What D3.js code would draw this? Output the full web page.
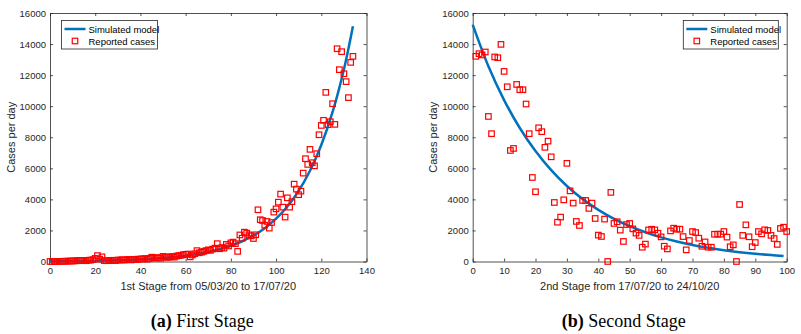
<!DOCTYPE html>
<html><head><meta charset="utf-8">
<script src="https://cdn.jsdelivr.net/npm/d3@7/dist/d3.min.js"></script>
<style>
body{margin:0;background:#fff;}
svg{display:block;font-family:"Liberation Sans",Arial,sans-serif;}
</style></head>
<body><svg id="c" width="801" height="334"></svg>
<script>
// ---------- DATA ----------
const yTicks = [0,2000,4000,6000,8000,10000,12000,14000,16000];
const stage1XTicks = [0,20,40,60,80,100,120,140];
const stage2XTicks = [0,10,20,30,40,50,60,70,80,90,100];

const stage1ReportedCases = [
  0,0,0,0,5,10,15,20,25,30,35,
  40,50,60,70,60,50,80,90,120,
  200,380,150,300,60,50,60,70,80,60,90,
  100,110,90,120,130,100,140,120,150,160,
  170,190,150,200,280,220,230,250,210,330,
  290,260,300,320,280,350,380,400,440,460,
  480,300,420,500,700,560,600,650,700,750,
  720,800,860,1150,820,900,860,1100,1000,1200,1250,1150,650,
  1710,1500,1890,1830,1720,1650,1480,1720,3330,2690,2640,2340,2580,2150,2510,3180,
  3390,3820,4340,3500,2860,4100,3500,3850,4980,4660,4300,4530,5690,6620,6250,7220,
  6360,6160,6940,8160,8760,9090,10890,8810,9000,10160,8830,13700,12350,13510,12090,
  11580,10550,12820,13210
];
const stage1Model = {
  days:  [0,10,20,30,40,50,60,70,80,85,90,95,100,105,110,115,120,125,130,134],
  cases: [19,31,51,83,137,226,373,615,1015,1303,1673,2148,2758,3542,4548,5839,7498,9628,12363,15150]
};

const stage2ReportedCases = [
  13210,13380,13300,13490,9340,8230,13170,13120,13980,12240,
  11250,7150,7280,11400,11060,11060,10140,8230,5410,4490,
  8610,8360,7350,7750,6740,3800,2530,2860,3970,6320,
  4550,3760,2580,2320,3930,3930,3420,3760,2770,1700,
  1610,2730,0,4450,2450,2560,2020,1290,2380,2450,
  2100,1830,1680,920,1120,2035,2077,2035,1820,1585,
  985,810,1970,2145,2080,2080,1605,750,1350,1930,
  1865,1500,980,1260,920,920,1755,1760,1760,1930,
  1570,950,1070,0,3670,1680,2360,1590,950,1220,
  1930,1780,2040,2000,1680,1480,1100,2130,2210,1930
];
const stage2Model = {
  days:  [0,5,10,15,20,25,30,35,40,45,50,55,60,65,70,75,80,85,90,95,99],
  cases: [15250,12570,10394,8596,7109,5878,4861,4020,3325,2750,2274,1880,1555,1286,1063,879,727,601,497,411,355]
};

const panels = [
  {x0:50, x1:366.5, xMax:140, xTicks:stage1XTicks, startDay:0,
   reported:stage1ReportedCases, model:stage1Model,
   xLabel:"1st Stage from 05/03/20 to 17/07/20", caption:["(a)"," First Stage"],
   legend:{x:61.5, w:96}},
  {x0:472.7, x1:786.7, xMax:100, xTicks:stage2XTicks, startDay:1,
   reported:stage2ReportedCases, model:stage2Model,
   xLabel:"2nd Stage from 17/07/20 to 24/10/20", caption:["(b)"," Second Stage"],
   legend:{x:683.3, w:95}}
];

// ---------- DRAW ----------
const svg = d3.select("#c");
const yTop = 13, yBot = 261.5;
const axisColor = "#262626";
const blue = "#0072BD";

panels.forEach(p => {
  const x = d3.scaleLinear().domain([0,p.xMax]).range([p.x0,p.x1]);
  const y = d3.scaleLinear().domain([0,16000]).range([yBot,yTop]);
  const g = svg.append("g");

  const styleAxis = sel => {
    sel.selectAll("path.domain").attr("stroke",axisColor).attr("stroke-width",0.8);
    sel.selectAll(".tick line").attr("stroke",axisColor).attr("stroke-width",0.8);
    sel.selectAll(".tick text").attr("fill",axisColor).style("font-size","9.5px")
       .style("font-family",'"Liberation Sans",Arial,sans-serif');
  };
  g.append("g").attr("transform",`translate(0,${yBot})`)
    .call(d3.axisBottom(x).tickValues(p.xTicks).tickFormat(d3.format("d")).tickSize(-3).tickSizeOuter(0).tickPadding(6)).call(styleAxis);
  g.append("g").attr("transform",`translate(0,${yTop})`)
    .call(d3.axisTop(x).tickValues(p.xTicks).tickSize(-3).tickSizeOuter(0).tickFormat("")).call(styleAxis);
  g.append("g").attr("transform",`translate(${p.x0},0)`)
    .call(d3.axisLeft(y).tickValues(yTicks).tickFormat(d3.format("d")).tickSize(-3).tickSizeOuter(0).tickPadding(4)).call(styleAxis);
  g.append("g").attr("transform",`translate(${p.x1},0)`)
    .call(d3.axisRight(y).tickValues(yTicks).tickSize(-3).tickSizeOuter(0).tickFormat("")).call(styleAxis);

  // model curve
  const line = d3.line().x(d=>x(d[0])).y(d=>y(d[1])).curve(d3.curveCatmullRom);
  g.append("path").datum(p.model.days.map((d,i)=>[d,p.model.cases[i]]))
    .attr("d",line).attr("fill","none").attr("stroke",blue).attr("stroke-width",2.5);

  // reported cases
  const s = 5.5;
  g.selectAll("rect.pt").data(p.reported).enter().append("rect")
    .attr("x",(d,i)=>x(i+p.startDay)-s/2).attr("y",d=>y(d)-s/2)
    .attr("width",s).attr("height",s)
    .attr("fill","none").attr("stroke","#ff0000").attr("stroke-width",1.2);

  // labels
  g.append("text").attr("x",(p.x0+p.x1)/2).attr("y",290).attr("text-anchor","middle")
    .attr("fill",axisColor).style("font-size","11px").text(p.xLabel);
  g.append("text").attr("transform",`translate(${p.x0-35.5},${(yTop+yBot)/2}) rotate(-90)`)
    .attr("text-anchor","middle").attr("fill",axisColor).style("font-size","11px").text("Cases per day");

  // caption
  const cap = g.append("text").attr("x",(p.x0+p.x1)/2 - 6).attr("y",327).attr("text-anchor","middle")
    .style("font-family",'"Liberation Serif","Times New Roman",serif').style("font-size","18px").attr("fill","#000");
  cap.append("tspan").style("font-weight","bold").text(p.caption[0]);
  cap.append("tspan").text(p.caption[1]);

  // legend
  const L = p.legend;
  const lg = g.append("g");
  lg.append("rect").attr("x",L.x).attr("y",20.5).attr("width",L.w).attr("height",28.5)
    .attr("fill","#fff").attr("stroke",axisColor).attr("stroke-width",0.8);
  lg.append("line").attr("x1",L.x+3).attr("x2",L.x+24).attr("y1",29).attr("y2",29)
    .attr("stroke",blue).attr("stroke-width",2.5);
  lg.append("rect").attr("x",L.x+13.5-s/2).attr("y",41-s/2).attr("width",s).attr("height",s)
    .attr("fill","none").attr("stroke","#ff0000").attr("stroke-width",1.2);
  lg.append("text").attr("x",L.x+27).attr("y",32.5).attr("fill","#000").style("font-size","9.5px").text("Simulated model");
  lg.append("text").attr("x",L.x+27).attr("y",44.5).attr("fill","#000").style("font-size","9.5px").text("Reported cases");
});
</script></body></html>
